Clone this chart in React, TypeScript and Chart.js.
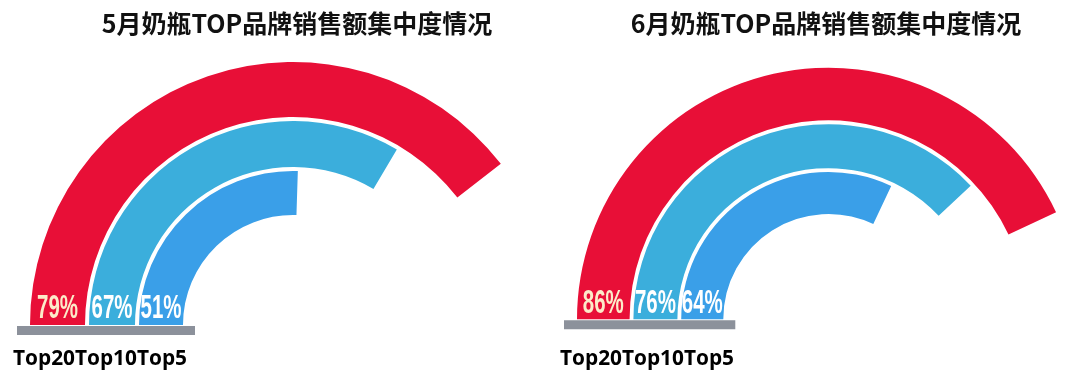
import React, { useEffect, useRef } from "react";
import { Chart, registerables } from "chart.js";

Chart.register(...registerables);

const titles = ["5月奶瓶TOP品牌销售额集中度情况", "6月奶瓶TOP品牌销售额集中度情况"];
const categories = ["Top20", "Top10", "Top5"];
const mayValues = [79, 67, 51];
const juneValues = [86, 76, 64];
const ringColors = ["#E80F37", "#3BAEDC", "#3A9FE8"];
const labelColors = ["#FCEBC9", "#FFFFFF", "#FFFFFF"];

const W = 1080;
const H = 382;

type Cfg = { values: number[]; title: string; cx: number; titleX: number };

const gaugePlugin = {
  id: "gaugeDecor",
  afterDraw(chart: any) {
    const ctx = chart.ctx as CanvasRenderingContext2D;
    const o = chart.options.plugins.gaugeDecor;
    const valueIdx = [0, 2, 4];
    const arcs = valueIdx.map((i) => chart.getDatasetMeta(i).data[0]);
    const cx = arcs[0].x;
    const cy = arcs[0].y;
    const R = arcs[0].outerRadius;
    const rInner = arcs[2].innerRadius;
    ctx.save();
    // title
    ctx.fillStyle = "#111111";
    ctx.font = "bold 25px 'Noto Sans CJK SC', sans-serif";
    ctx.textAlign = "center";
    ctx.textBaseline = "middle";
    ctx.fillText(o.title, o.titleX, 23);
    // base bar
    ctx.fillStyle = "#8C919B";
    ctx.fillRect(cx - R - 13, cy + 1, R + 13 - rInner + 12, 9);
    // percent labels
    arcs.forEach((a: any, k: number) => {
      const rm = (a.innerRadius + a.outerRadius) / 2;
      const x = cx - rm;
      const y = cy - 16;
      ctx.save();
      ctx.translate(x, y);
      ctx.scale(0.64, 1.05);
      ctx.font = "bold 32px 'Liberation Sans', Arial, sans-serif";
      ctx.textAlign = "center";
      ctx.textBaseline = "middle";
      ctx.fillStyle = labelColors[k];
      ctx.fillText(o.values[k] + "%", 0, 0);
      ctx.restore();
    });
    // category labels
    ctx.fillStyle = "#000000";
    ctx.font = "bold 21px 'Open Sans', sans-serif";
    ctx.textAlign = "left";
    ctx.textBaseline = "alphabetic";
    const total = categories.reduce((s, c) => s + ctx.measureText(c).width, 0);
    const sx = 174 / total;
    ctx.save();
    ctx.translate(cx - R - 17, 365);
    ctx.scale(sx, 1);
    let x = 0;
    categories.forEach((c) => {
      ctx.fillText(c, x, 0);
      x += ctx.measureText(c).width;
    });
    ctx.restore();
    ctx.restore();
  },
};

function Gauge({ cfg }: { cfg: Cfg }) {
  const ref = useRef<HTMLCanvasElement>(null);
  useEffect(() => {
    if (!ref.current) return;
    const R = 263;
    const cy = 325;
    const transparent = "rgba(0,0,0,0)";
    const ring = (k: number, weight: number) => ({
      data: [cfg.values[k], 100 - cfg.values[k]],
      backgroundColor: [ringColors[k], transparent],
      borderWidth: 0,
      weight,
    });
    const gap = (weight: number) => ({
      data: [100],
      backgroundColor: [transparent],
      borderWidth: 0,
      weight,
    });
    const chart = new Chart(ref.current, {
      type: "doughnut",
      data: {
        labels: ["value", "rest"],
        datasets: [ring(0, 55), gap(4), ring(1, 46), gap(4), ring(2, 44)] as any,
      },
      options: {
        responsive: false,
        animation: false,
        rotation: -90,
        circumference: 180,
        cutout: "41.83%",
        spacing: 0,
        layout: {
          padding: {
            left: cfg.cx - R,
            right: W - (cfg.cx + R),
            top: cy - R,
            bottom: H - cy,
          },
        },
        plugins: {
          legend: { display: false },
          tooltip: { enabled: false },
          gaugeDecor: { title: cfg.title, titleX: cfg.titleX, values: cfg.values },
        } as any,
        events: [],
      },
      plugins: [gaugePlugin],
    });
    return () => chart.destroy();
  }, [cfg]);
  return (
    <canvas
      ref={ref}
      width={W}
      height={H}
      style={{ position: "absolute", left: 0, top: 0, width: W, height: H }}
    />
  );
}

const configs: Cfg[] = [
  { values: mayValues, title: titles[0], cx: 293, titleX: 297 },
  { values: juneValues, title: titles[1], cx: 840, titleX: 826 },
];

export default function App() {
  return (
    <div
      style={{
        position: "absolute",
        left: 0,
        top: 0,
        width: W,
        height: H,
        background: "#FFFFFF",
        overflow: "hidden",
      }}
    >
      <Gauge cfg={configs[0]} />
      <Gauge cfg={configs[1]} />
    </div>
  );
}
